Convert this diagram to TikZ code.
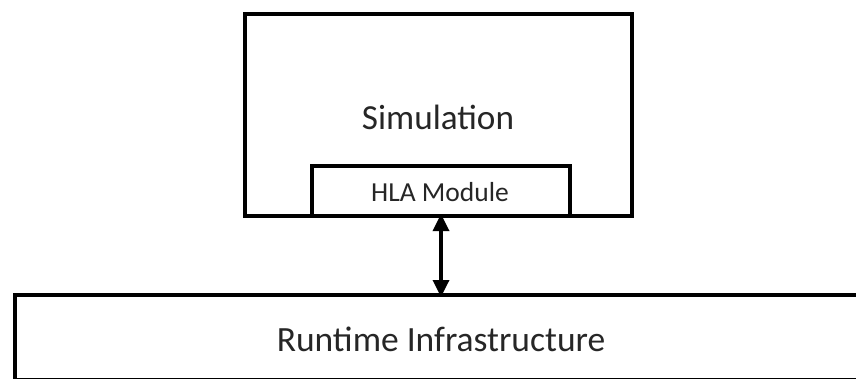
\documentclass[tikz,border=0pt]{standalone}
\usepackage{fontspec}
\setmainfont{Carlito}
\usetikzlibrary{arrows.meta}
\tikzset{
  boxline/.style={draw=black, line width=4pt, fill=white},
  lbl/.style={text=black!85, inner sep=0pt, anchor=center},
  biarrow/.style={line width=3.4pt, {Triangle[length=17pt,width=16pt]}-{Triangle[length=17pt,width=16pt]}}
}
\begin{document}
\begin{tikzpicture}[x=1pt,y=-1pt]
\useasboundingbox (0,0) rectangle (856,378);
\clip (0,0) rectangle (856,378);
% Simulation
\draw[boxline] (245,14) rectangle (632,216);
\node[lbl, font=\fontsize{35.2}{40}\selectfont] (sim) at (438,117) {Simulation};
% HLA module
\draw[boxline] (312,166) rectangle (570,216);
\coordinate (hlab) at (441,216);
\node[lbl, font=\fontsize{27.5}{32}\selectfont] (hla) at (440,192) {HLA Module};
% Runtime
\draw[boxline] (15,295) rectangle (880,379.5);
\coordinate (rtit) at (441,295);
\node[lbl, font=\fontsize{35.5}{42}\selectfont] (rti) at (441,339) {Runtime Infrastructure};
% arrow
\draw[biarrow] ([yshift=2pt]hlab) -- ([yshift=-2pt]rtit);
\end{tikzpicture}
\end{document}
